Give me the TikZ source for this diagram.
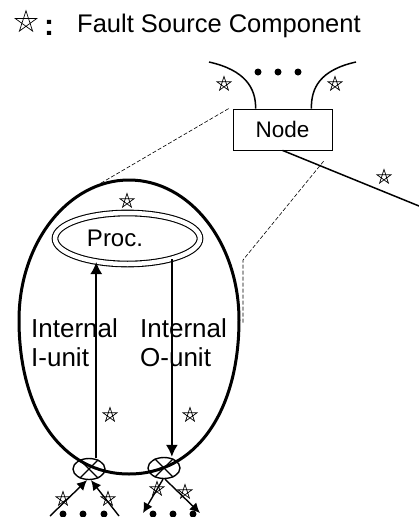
\documentclass[tikz,border=0pt]{standalone}
\usepackage{fontspec}
\setmainfont{Liberation Sans}
\usetikzlibrary{shapes.geometric,arrows.meta}

\tikzset{
	fstar/.pic={\draw[line width=0.7pt] (-90:7.5) -- (54:7.5) -- (198:7.5) -- (-18:7.5) -- (126:7.5) -- cycle;},
	wire/.style={line width=1.5pt},
	flow/.style={line width=1.6pt,-{Latex[length=12pt,width=12pt]}},
	flowsm/.style={line width=1.4pt,-{Latex[length=10pt,width=10pt]}},
	port/.style={ellipse,draw,line width=1.4pt,minimum width=32pt,minimum height=21pt,inner sep=0pt},
	zoomline/.style={dash pattern=on 4pt off 2pt,line width=0.6pt},
}

\begin{document}
\begin{tikzpicture}[x=1pt,y=-1pt]
			\useasboundingbox (0,0) rectangle (419,517);

			\pic[scale=1.5] at (26,22) {fstar};
			\node(colon) [anchor=base,font=\fontsize{30}{30}\selectfont\bfseries] at (49,35) {:};
			\node(legend) [anchor=base west,inner sep=0pt,font=\fontsize{25.5}{28}\selectfont] at (77,32.5) {Fault Source Component};

			\node(nd) [draw,line width=0.8pt,minimum width=99pt,minimum height=41pt,font=\fontsize{22.5}{25}\selectfont] at (282.5,129.5) {Node};
			\coordinate(lin) at (209,62);
			\coordinate(rin) at (356,62);
			\coordinate(link) at (419,206);
			\draw[wire] (lin) .. controls (245,70) and (256,88) .. ([xshift=23pt]nd.north west);
			\draw[wire] (rin) .. controls (320,70) and (311,88) .. ([xshift=-21pt]nd.north east);
			\draw[wire] (nd.south) -- (link);
			\foreach \x in {258,278,298} \fill (\x,72) circle (3.5);

			% unit outline
			\draw[line width=3pt] (19,320) .. controls (19,242.7) and (68.3,180) .. (129,180)
				.. controls (189.7,180) and (239,242.7) .. (239,320)
				.. controls (239,412.4) and (195,474) .. (129,474)
				.. controls (63,474) and (19,412.4) .. cycle;
			\coordinate(eggtop) at (72,200);
			\coordinate(eggside) at (243,260);
			\coordinate(eggfoot) at (243,323);
			\draw[zoomline] ([xshift=-4pt]nd.north west) -- (eggtop);
			\draw[zoomline,shorten <=14pt] (nd.south east) -- (eggside) -- (eggfoot);

			\node(proc) [ellipse,draw,line width=1.1pt,double,double distance=4.5pt,minimum width=145pt,minimum height=51pt] at (127.5,238.5) {};
			\node(proclbl) [font=\fontsize{24}{27}\selectfont] at (115,238.5) {Proc.};

			\node(iunit) [anchor=north west,inner sep=0pt,align=left,font=\fontsize{26}{29}\selectfont] at (31,318.5) {Internal\\I-unit};
			\node(ounit) [anchor=north west,inner sep=0pt,align=left,font=\fontsize{26}{29}\selectfont] at (140,318.5) {Internal\\O-unit};

			\node(iport) [port] at (89,469) {};
			\node(oport) [port] at (164,468) {};
			\draw[line width=1.2pt] (iport.135) -- (iport.-45) (iport.45) -- (iport.-135);
			\draw[line width=1.2pt] (oport.135) -- (oport.-45) (oport.45) -- (oport.-135);

			\draw[flow] (iport.north -| proc.217) -- (proc.217);
			\draw[flow] (proc.-25) -- (proc.-25 |- oport.north);

			\coordinate(iin1) at (50,516);
			\coordinate(iin2) at (119,516);
			\coordinate(oout1) at (143,513);
			\coordinate(oout2) at (200,513);
			\draw[flowsm] (iin1) -- (iport.-100);
			\draw[flowsm] (iin2) -- (iport.-80);
			\draw[flowsm] (oport.-95) -- (oout1);
			\draw[flowsm] (oport.-85) -- (oout2);
			\foreach \x in {63,83,104,153,173,193} \fill (\x,514) circle (3.5);

			\foreach \p in {(224,84),(335,84),(384,177),(127,201),(110,415),(190,415),(63,499),(108,499),(157,489),(185,492)}
				\pic at \p {fstar};
		\end{tikzpicture}
\end{document}
